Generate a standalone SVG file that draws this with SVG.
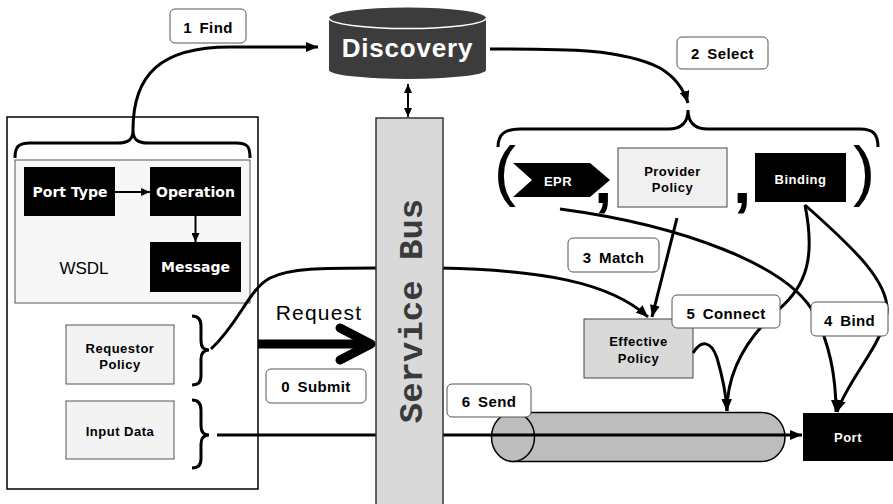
<svg xmlns="http://www.w3.org/2000/svg" width="893" height="504" viewBox="0 0 893 504">
<style>
.lbl rect{fill:#fff;stroke:#555;stroke-width:1}
.lbl text{font-family:"Liberation Sans",Arial,sans-serif;font-weight:bold;font-size:15px;fill:#000;text-anchor:middle;word-spacing:3px;letter-spacing:0.4px}
.blk{fill:#000}
.wt{font-family:"DejaVu Sans",Verdana,sans-serif;font-weight:bold;font-size:14px;fill:#fff;text-anchor:middle}
.wh{font-family:"Liberation Sans",Arial,sans-serif;font-weight:bold;font-size:13px;fill:#fff;text-anchor:middle;letter-spacing:0.5px}
.bt{font-family:"Liberation Sans",Arial,sans-serif;font-weight:bold;font-size:13px;fill:#000;text-anchor:middle;letter-spacing:0.5px}
.pol{fill:#f3f3f3;stroke:#555;stroke-width:1}
.c{fill:none;stroke:#000;stroke-width:3}
.cs{fill:none;stroke:#000;stroke-width:2}
.pun{font-family:"Liberation Sans",Arial,sans-serif;fill:#000}
</style>
<defs>
<marker id="ah" viewBox="0 0 12 10" refX="12" refY="5" markerWidth="12" markerHeight="10" markerUnits="userSpaceOnUse" orient="auto">
<path d="M0,0 L12,5 L0,10 Z" fill="#000"/>
</marker>
<marker id="as" viewBox="0 0 9 8" refX="9" refY="4" markerWidth="9" markerHeight="8" markerUnits="userSpaceOnUse" orient="auto-start-reverse">
<path d="M0,0 L9,4 L0,8 Z" fill="#000"/>
</marker>
</defs>
<rect width="893" height="504" fill="#fff"/>

<g id="requestor">
<rect x="7" y="117" width="251" height="372" fill="#fff" stroke="#000" stroke-width="1.5"/>
</g>
<g id="wsdl">
<rect x="15" y="160" width="235" height="143" fill="#f7f7f7" stroke="#555" stroke-width="1"/>
<text x="84" y="274" font-family="Liberation Sans, Arial, sans-serif" font-size="17" fill="#000" text-anchor="middle">WSDL</text>
</g>
<g id="porttype"><rect class="blk" x="24" y="167" width="91" height="49"/><text class="wt" x="70" y="197">Port Type</text></g>
<g id="operation"><rect class="blk" x="150" y="167" width="91" height="49"/><text class="wt" x="195.5" y="197">Operation</text></g>
<g id="message"><rect class="blk" x="150" y="242" width="91" height="50"/><text class="wt" x="195.5" y="272">Message</text></g>
<g id="requestorpolicy"><rect class="pol" x="66" y="325" width="108" height="59"/><text class="bt" x="120" y="353">Requestor</text><text class="bt" x="120" y="369">Policy</text></g>
<g id="inputdata"><rect class="pol" x="66" y="401" width="108" height="58"/><text class="bt" x="120" y="436">Input Data</text></g>

<g id="discovery">
<path d="M329,18 L329,70 A78.5,9 0 0 0 486,70 L486,18 A78.5,10.5 0 0 0 329,18 Z" fill="#3c3c3c"/>
<path d="M329,18 A78.5,10.5 0 0 0 486,18" fill="none" stroke="#fff" stroke-width="1.5"/>
<text x="407.5" y="57" font-family="Liberation Sans, Arial, sans-serif" font-weight="bold" font-size="26" fill="#fff" text-anchor="middle" letter-spacing="0.8">Discovery</text>
</g>

<g id="pipe">
<path d="M513,412.5 L762,412.5 A23,24.5 0 0 1 762,461.5 L513,461.5 Z" fill="#bdbdbd" stroke="#000" stroke-width="1.5"/>
<ellipse cx="513" cy="437" rx="21.5" ry="24.5" fill="#bdbdbd" stroke="#000" stroke-width="1.5"/>
</g>

<g id="tuple">
<text class="pun" x="494" y="193" font-size="66">(</text>
<polygon points="513,163 590,163 610,180 590,197 513,197 532,180" fill="#000"/>
<text class="wh" x="558" y="186" font-size="14">EPR</text>
<text class="pun" x="594" y="203" font-size="66" font-weight="bold">,</text>
<rect x="618" y="148" width="109" height="59" fill="#f0f0f0" stroke="#444" stroke-width="1"/>
<text class="bt" x="672.5" y="176">Provider</text>
<text class="bt" x="672.5" y="192">Policy</text>
<text class="pun" x="733" y="203" font-size="66" font-weight="bold">,</text>
<rect class="blk" x="755" y="153" width="91" height="49"/>
<text class="wh" x="800.5" y="184">Binding</text>
<text class="pun" x="853" y="193" font-size="66">)</text>
</g>

<g id="effectivepolicy"><rect x="584" y="319" width="109" height="59" fill="#d9d9d9" stroke="#444" stroke-width="1"/><text class="bt" x="638.5" y="346">Effective</text><text class="bt" x="638.5" y="363">Policy</text></g>
<g id="port"><rect class="blk" x="803" y="413" width="90" height="48"/><text class="wh" x="848" y="442" font-size="14">Port</text></g>

<g id="connectors">
<path class="c" d="M15,158 C15,147 18,143 30,143 L118,143 C128,143 133,140 133,130 C133,140 138,143 148,143 L236,143 C248,143 250,147 250,158"/>
<path class="c" d="M133,130 C133,75 160,47 230,47 L318,47" marker-end="url(#ah)"/>
<path class="c" d="M490,49 C560,49 620,48 660,68 C675,77 684,90 688,103" marker-end="url(#ah)"/>
<path class="c" d="M498,147 C498,134 505,129 520,129 L668,129 C682,129 688,122 688,110 C688,122 694,129 708,129 L860,129 C873,129 878,134 878,147"/>
<path class="cs" d="M408,84 L408,117" marker-start="url(#as)" marker-end="url(#as)"/>
<path class="cs" d="M115,192 L150,192" marker-end="url(#as)"/>
<path class="cs" d="M195.5,216 L195.5,242" marker-end="url(#as)"/>
<path class="c" d="M192,316 C198,316 201,319 201,326 L201,341 C201,347 204,350 209,350 C204,350 201,353 201,359 L201,376 C201,382 198,385 192,385"/>
<path class="c" d="M192,400 C198,400 201,403 201,410 L201,426 C201,432 204,435 209,435 C204,435 201,438 201,444 L201,459 C201,465 198,468 192,468"/>
<path class="c" d="M211,349 C240,322 248,290 270,278 C290,268 320,268 380,268 L440,268 C540,270 610,282 648,317" marker-end="url(#ah)"/>
<path class="c" d="M677,218 L652,317" marker-end="url(#ah)"/>
<path class="c" d="M217,435 L802,435" marker-end="url(#ah)"/>
<path class="c" d="M560,209 C680,225 790,265 815,315 C830,345 836,380 836,412" marker-end="url(#ah)"/>
<path class="c" d="M805,205 C850,245 895,285 886,318 C878,350 848,380 837,412" marker-end="url(#ah)"/>
<path class="c" d="M805,205 C815,255 808,285 778,310 C748,337 727,370 727,411" marker-end="url(#ah)"/>
<path class="c" d="M693,353 C701,340 711,340 717,358 C722,375 726,392 727,411" marker-end="url(#ah)"/>
<path d="M258,344 L368,344" fill="none" stroke="#000" stroke-width="9"/>
<path d="M340,328 L371,344 L340,360" fill="none" stroke="#000" stroke-width="9" stroke-linecap="round" stroke-linejoin="round"/>
</g>

<g id="servicebus">
<rect x="376" y="118" width="67" height="390" fill="#d9d9d9" stroke="#333" stroke-width="1.5"/>
<text transform="translate(422,311) rotate(-90)" font-family="Liberation Mono, Courier New, monospace" font-weight="bold" font-size="34" fill="#3a3a3a" text-anchor="middle">Service Bus</text>
</g>

<g id="request-label"><text x="319" y="320" font-family="Liberation Sans, Arial, sans-serif" font-size="21" letter-spacing="1.2" fill="#000" text-anchor="middle">Request</text></g>
<g id="lbl-find" class="lbl"><rect x="170" y="9" width="76" height="34" rx="5"/><text x="208" y="33">1 Find</text></g>
<g id="lbl-select" class="lbl"><rect x="677" y="37" width="91" height="32" rx="5"/><text x="722.5" y="59">2 Select</text></g>
<g id="lbl-match" class="lbl"><rect x="568" y="238" width="91" height="34" rx="5"/><text x="613.5" y="263">3 Match</text></g>
<g id="lbl-bind" class="lbl"><rect x="811" y="302" width="77" height="34" rx="5"/><text x="849.5" y="326">4 Bind</text></g>
<g id="lbl-connect" class="lbl"><rect x="672" y="295" width="108" height="33" rx="5"/><text x="726" y="319">5 Connect</text></g>
<g id="lbl-send" class="lbl"><rect x="447" y="384" width="84" height="33" rx="5"/><text x="489" y="407">6 Send</text></g>
<g id="lbl-submit" class="lbl"><rect x="266" y="369" width="100" height="34" rx="5"/><text x="316" y="392">0 Submit</text></g>
</svg>
